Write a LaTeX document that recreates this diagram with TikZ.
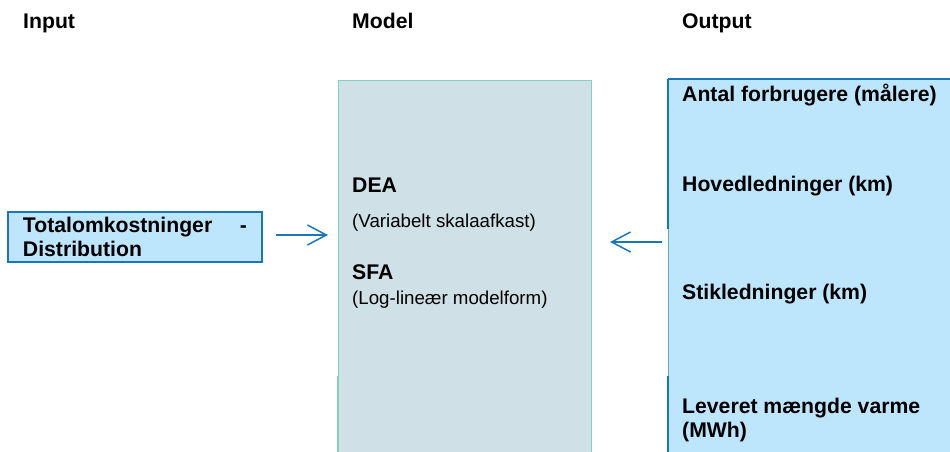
\documentclass[tikz,border=0pt]{standalone}
\usepackage{fontspec}
\setmainfont{Liberation Sans}
\usetikzlibrary{arrows.meta}
\definecolor{boxblue}{HTML}{BDE5FB}
\definecolor{edgeblue}{HTML}{1B75BB}
\definecolor{lightedge}{HTML}{5DA9DC}
\definecolor{modfill}{HTML}{CFE0E7}
\definecolor{modedge}{HTML}{7FD3C2}
\begin{document}
\begin{tikzpicture}[x=1pt,y=-1pt,
  bold/.style={font=\fontsize{21.2}{23}\selectfont\bfseries},
  reg/.style={font=\fontsize{18.7}{22}\selectfont},
  lbl/.style={anchor=base west,inner sep=0pt},
  inbox/.style={draw=edgeblue,line width=1.8pt,fill=boxblue,minimum width=254pt,
    minimum height=50pt,text width=224pt,align=left,inner xsep=15pt,inner ysep=0pt,bold},
  modbox/.style={draw=modedge,line width=1pt,fill=modfill,anchor=north west,
    minimum width=253pt,minimum height=400pt,inner sep=0pt},
  outbox/.style={draw=lightedge,line width=1.2pt,fill=boxblue,anchor=north west,
    minimum width=300pt,minimum height=400pt,inner sep=0pt},
  arr/.style={draw=edgeblue,line width=1.5pt,-{Straight Barb[length=19pt,width=20pt,line width=1.5pt]}}
]
\useasboundingbox (0,0) rectangle (950,452);
\clip (0,0) rectangle (950,452);

% headers
\node[lbl,bold] (hin) at (23,29) {Input};
\node[lbl,bold] (hmod) at (352,29) {Model};
\node[lbl,bold] (hout) at (682,29) {Output};

% boxes
\node[inbox] (inp) at (135,237) {Totalomkostninger\hfill-\\[1pt]Distribution};
\node[modbox] (model) at (338,80) {};
\node[outbox] (out) at (668,79) {};
% stronger borders
\draw[draw=edgeblue,line width=2pt] (out.north west) -- (out.north east);
\draw[draw=edgeblue,line width=2pt] (out.north west) -- ++(0,150);
\draw[draw=edgeblue,line width=2.2pt] ([yshift=-297pt]out.north west) -- (out.south west);
\draw[draw=modedge,line width=1.8pt] ([yshift=-296pt]model.north west) -- (model.south west);

% model texts
\node[lbl,bold] (dea) at (352,192) {DEA};
\node[lbl,reg] (vrs) at (352,227) {(Variabelt skalaafkast)};
\node[lbl,bold] (sfa) at (352,279) {SFA};
\node[lbl,reg] (loglin) at (352,304) {(Log-lineær modelform)};

% output texts
\node[lbl,bold] (o1) at (682,101) {Antal forbrugere (målere)};
\node[lbl,bold] (o2) at (682,191) {Hovedledninger (km)};
\node[lbl,bold] (o3) at (682,299) {Stikledninger (km)};
\node[lbl,bold] (o4) at (682,413) {Leveret mængde varme};
\node[lbl,bold] (o5) at (682,437) {(MWh)};

% arrows
\draw[arr,shorten <=13pt,shorten >=10pt] ([yshift=2pt]inp.east) -- ([yshift=2pt]inp.east -| model.west);
\draw[arr,shorten <=6pt,shorten >=18pt] ([yshift=-163pt]out.north west) -- ([yshift=-163pt]out.north west -| model.east);
\end{tikzpicture}
\end{document}
